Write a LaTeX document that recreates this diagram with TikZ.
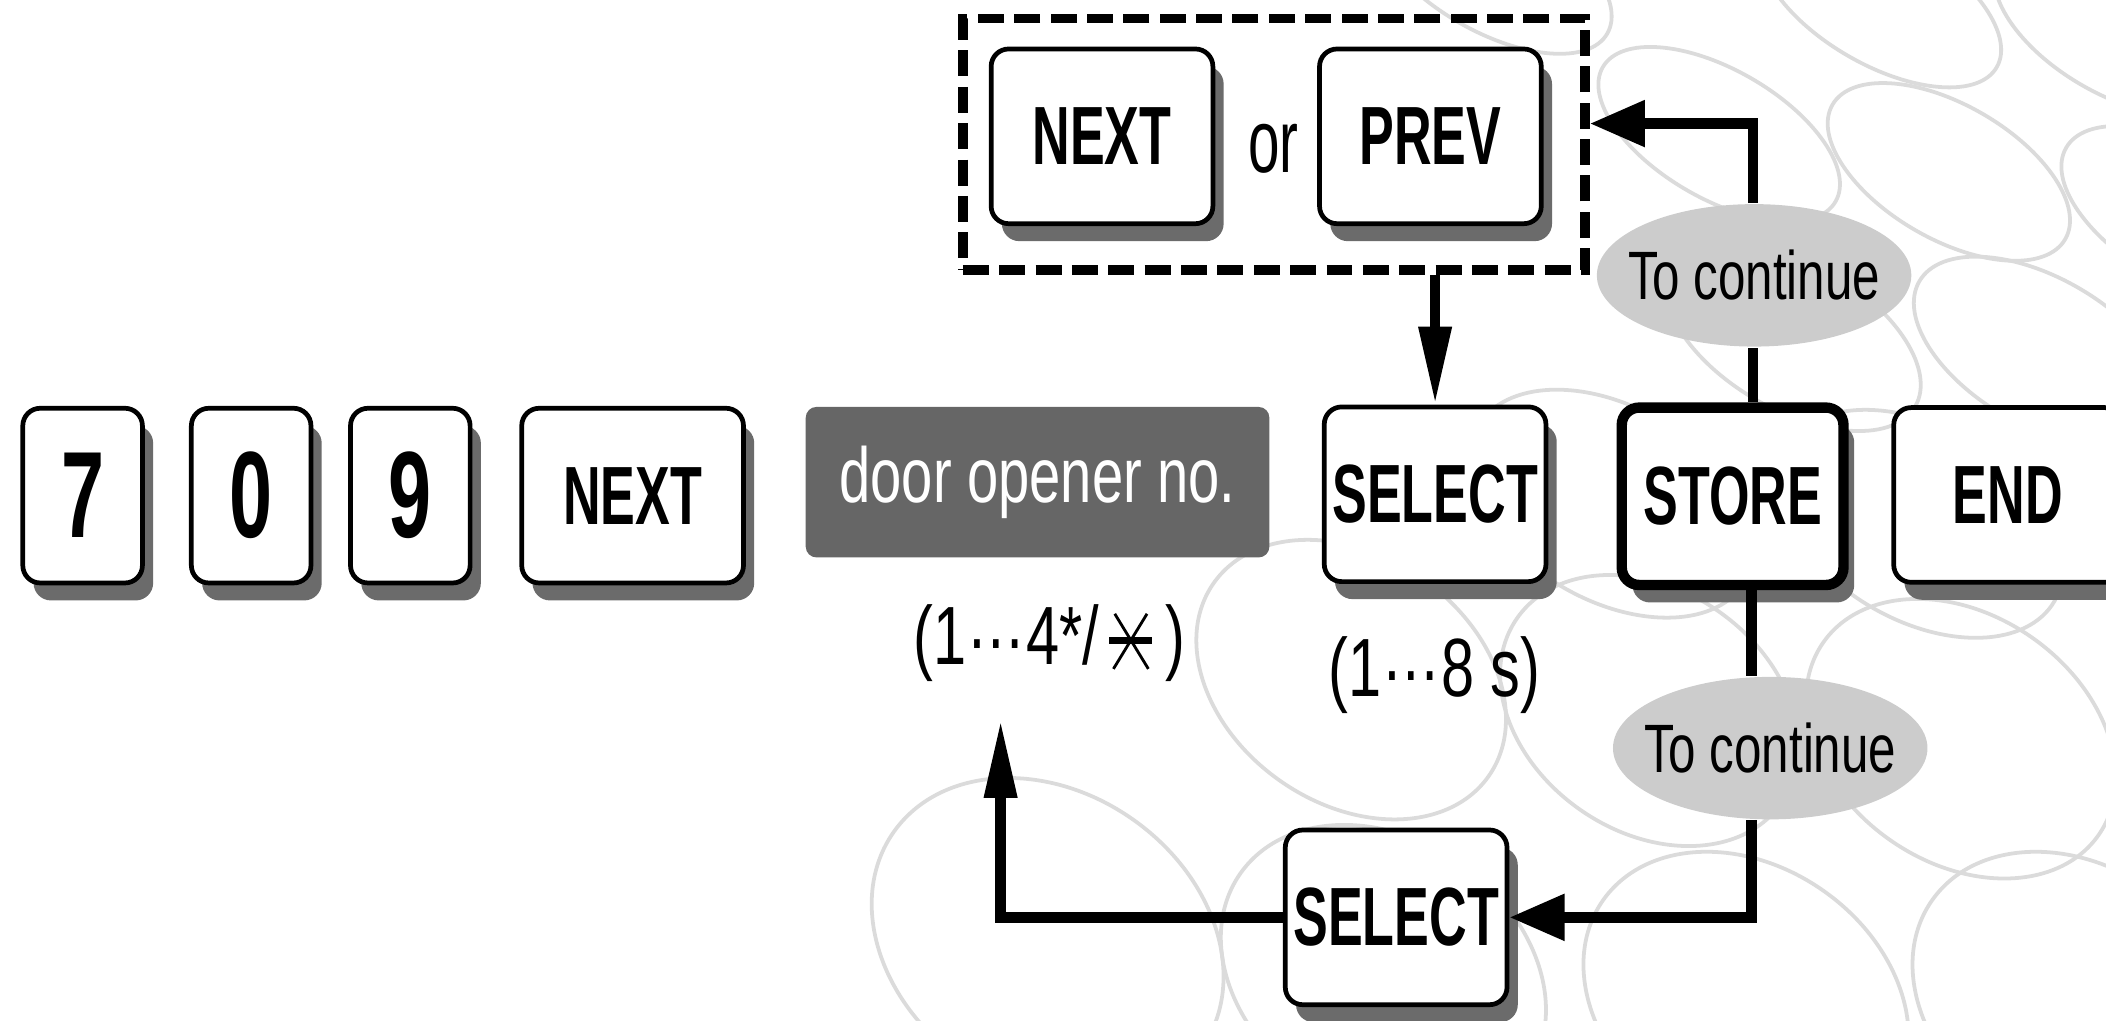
\documentclass[tikz,border=0pt]{standalone}
\usepackage{fontspec}
\setmainfont{Liberation Sans}
\newfontfamily\keyfont[FakeStretch=0.63]{Liberation Sans}
\newfontfamily\narrowfont[FakeStretch=0.72]{Liberation Sans}
\usetikzlibrary{shapes.geometric, shadows, arrows.meta}

\tikzset{
	ring/.style={draw=black!14, line width=0.8pt},
	key/.style={draw, line width=1pt, fill=white, rounded corners=0.13cm,
		minimum width=0.89cm, minimum height=1.3cm, inner sep=0pt,
		font=\keyfont\bfseries\fontsize{17.5}{18}\selectfont,
		copy shadow={shadow xshift=0.08cm, shadow yshift=-0.13cm, fill=black!58, draw=none}},
	digit/.style={key, font=\keyfont\bfseries\fontsize{26}{26}\selectfont},
	widekey/.style={key, minimum width=1.65cm},
	storekey/.style={widekey, line width=2.2pt, minimum height=1.32cm},
	opener/.style={fill=black!60, text=white, rounded corners=0.08cm,
		minimum width=3.45cm, minimum height=1.12cm, inner sep=0pt,
		font=\narrowfont\fontsize{16.5}{17}\selectfont},
	dashbox/.style={draw, line width=2pt, dash pattern=on 5.5pt off 2.2pt,
		minimum width=4.63cm, minimum height=1.87cm},
	cont/.style={ellipse, fill=black!20, minimum width=2.34cm, minimum height=1.06cm,
		inner xsep=-0.3cm, inner ysep=0pt, font=\narrowfont\fontsize{14.5}{15}\selectfont},
	hint/.style={inner sep=0pt, font=\narrowfont\fontsize{17.5}{18}\selectfont},
	wire/.style={line width=2.2pt},
	flowh/.style={wire, -{Triangle[length=0.41cm, width=0.33cm]}},
	flowv/.style={wire, -{Triangle[length=0.58cm, width=0.23cm]}}
}

\begin{document}
\begin{tikzpicture}[x=0.01cm, y=-0.01cm]
	\def\ky{369};
	\def\by{101.5};

	\useasboundingbox (0,0) rectangle (1568,760);
	\clip (0,0) rectangle (1568,760);

	\begin{scope}[ring]
		\draw[rotate around={-30:(1110,-25)}] (1110,-25) ellipse [x radius=1cm, y radius=0.48cm];
		\draw[rotate around={-30:(1280,100)}] (1280,100) ellipse [x radius=1cm, y radius=0.48cm];
		\draw[rotate around={-30:(1400,0)}] (1400,0) ellipse [x radius=1cm, y radius=0.48cm];
		\draw[rotate around={-30:(1451,128)}] (1451,128) ellipse [x radius=1cm, y radius=0.5cm];
		\draw[rotate around={-30:(1575,20)}] (1575,20) ellipse [x radius=1cm, y radius=0.5cm];
		\draw[rotate around={-30:(1625,160)}] (1625,160) ellipse [x radius=1cm, y radius=0.5cm];
		\draw[rotate around={-30:(1520,262)}] (1520,262) ellipse [x radius=1.05cm, y radius=0.55cm];
		\draw[rotate around={-30:(1335,250)}] (1335,250) ellipse [x radius=1.05cm, y radius=0.55cm];
		\draw[rotate around={-30:(1200,375)}] (1200,375) ellipse [x radius=1.15cm, y radius=0.72cm];
		\draw[rotate around={-30:(1430,390)}] (1430,390) ellipse [x radius=1.15cm, y radius=0.72cm];
		\draw[rotate around={-35:(1006,506)}] (1006,506) ellipse [x radius=1.25cm, y radius=0.92cm];
		\draw[rotate around={-35:(1228,529)}] (1228,529) ellipse [x radius=1.2cm, y radius=0.9cm];
		\draw[rotate around={-35:(1460,550)}] (1460,550) ellipse [x radius=1.25cm, y radius=0.92cm];
		\draw[rotate around={-35:(780,700)}] (780,700) ellipse [x radius=1.4cm, y radius=1.1cm];
		\draw[rotate around={-35:(1030,725)}] (1030,725) ellipse [x radius=1.3cm, y radius=1cm];
		\draw[rotate around={-35:(1300,745)}] (1300,745) ellipse [x radius=1.3cm, y radius=1cm];
		\draw[rotate around={-35:(1545,745)}] (1545,745) ellipse [x radius=1.3cm, y radius=1cm];
	\end{scope}

	\begin{scope}
		\node[digit] (k7) at (61.5,\ky) {7};
		\node[digit] (k0) at (187,\ky) {0};
		\node[digit] (k9) at (305.5,\ky) {9};
		\node[widekey] (next) at (471,\ky) {NEXT};
		\node[opener] (door) at (772.5,359) {door opener no.};
		\node[widekey] (sel) at (1068.5,368) {SELECT};
		\node[storekey] (store) at (1290,369.5) {STORE};
		\node[widekey, minimum width=1.7cm] (end) at (1495,368.5) {END};
		\node[widekey] (selb) at (1039.5,683) {SELECT};
	\end{scope}

	\begin{scope}
		\node[dashbox] (grp) at (948.5,107.5) {};
		\node[widekey] (nextb) at (820.5,\by) {NEXT};
		\node[hint, font=\keyfont\fontsize{19}{19}\selectfont] (or) at (948,111) {or};
		\node[widekey] (prev) at (1065,\by) {PREV};
	\end{scope}

	\begin{scope}
		\node[hint, anchor=base east] (rng) at (819,495) {(1\raisebox{0.2em}{…}4*/};
		\coordinate (sx) at (842,477);
		\draw[line width=0.6pt] (sx) ++(-12,-20) -- ++(25,41);
		\draw[line width=0.6pt] (sx) ++(12,-20) -- ++(-25,41);
		\draw[line width=1.6pt] (sx) ++(-16,0) -- ++(32,0);
		\node[hint, anchor=base west] (rngc) at (867,495) {)};
		\node[hint] (secs) at (1068,503) {(1\raisebox{0.2em}{…}8 s)};
		\node[cont] (goon) at (1306,205) {To continue};
		\node[cont] (goon2) at (1318,557) {To continue};
	\end{scope}

	\begin{scope}
		\coordinate (up) at ([xshift=0.15cm]store.north);
		\coordinate (dn) at ([xshift=0.14cm]store.south);
		\coordinate (optip) at (745,536);
		\draw[flowv] (sel.north |- grp.south) -- (sel.north);
		\draw[wire] (up) -- (up |- goon.south);
		\draw[flowh] (up |- goon.north) |- ([yshift=0.155cm]grp.east);
		\draw[wire] (dn) -- (dn |- goon2.north);
		\draw[flowh] (dn |- goon2.south) |- (selb.east);
		\draw[flowv] (selb.west) -| (optip);
	\end{scope}
\end{tikzpicture}
\end{document}
